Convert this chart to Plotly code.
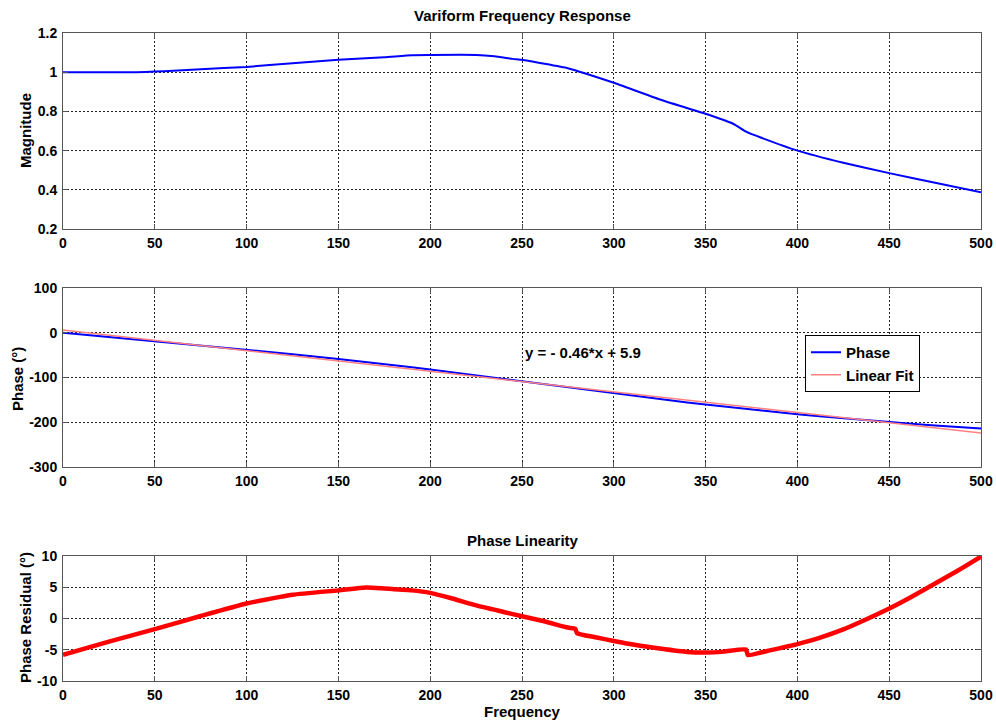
import plotly.graph_objects as go

# ---- data ----
mag_freq = [0, 25, 40, 50, 60, 75, 100, 125, 150, 175, 190, 200, 225, 235, 245,
            250, 275, 285, 300, 325, 350, 365, 372, 380, 400, 425, 450, 475, 500]
mag_vals = [1.0, 1.0, 1.0, 1.003, 1.007, 1.015, 1.027, 1.046, 1.063, 1.076, 1.087,
            1.088, 1.088, 1.081, 1.068, 1.063, 1.02, 0.992, 0.946, 0.861, 0.788,
            0.737, 0.697, 0.667, 0.6, 0.538, 0.485, 0.436, 0.388]

ph_freq = [0, 25, 50, 75, 100, 125, 150, 165, 175, 190, 200, 212, 225, 240, 250,
           262, 275, 279, 280, 290, 300, 312, 325, 340, 350, 360, 372, 373, 380,
           385, 395, 400, 412, 425, 437, 450, 462, 475, 487, 500]
ph_vals = [0.1, -9.3, -18.8, -28.2, -37.7, -47.8, -58.6, -65.05, -69.8, -77.0,
           -82.0, -88.42, -95.5, -103.45, -108.75, -115.07, -122.05, -124.09,
           -125.25, -130.5, -135.7, -141.87, -148.4, -155.85, -160.55, -165.0,
           -170.17, -171.53, -174.35, -176.3, -180.25, -182.2, -186.72, -191.35,
           -195.32, -199.5, -203.17, -207.0, -210.52, -214.2]
res_vals = [-5.8, -3.7, -1.7, 0.4, 2.4, 3.8, 4.5, 4.95, 4.8, 4.5, 4.1, 3.2, 2.1,
            1.05, 0.35, -0.45, -1.45, -1.65, -2.35, -3.0, -3.6, -4.25, -4.8, -5.35,
            -5.45, -5.3, -4.95, -5.85, -5.45, -5.1, -4.45, -4.1, -3.1, -1.75, -0.2,
            1.6, 3.45, 5.6, 7.6, 9.9]

fit_freq = [0, 500]
fit_vals = [5.9, -224.1]

x_ticks = [0, 50, 100, 150, 200, 250, 300, 350, 400, 450, 500]
mag_ticks = [0.2, 0.4, 0.6, 0.8, 1.0, 1.2]
mag_ticktext = ["0.2", "0.4", "0.6", "0.8", "1", "1.2"]
ph_ticks = [-300, -200, -100, 0, 100]
ph_ticktext = ["-300", "-200", "-100", "0", "100"]
res_ticks = [-10, -5, 0, 5, 10]
res_ticktext = ["-10", "-5", "0", "5", "10"]

FONT = "Liberation Sans"
W, H = 996, 721

def px_x(p):
    return p / W

def px_y(p):
    return 1 - p / H

fig = go.Figure()

fig.add_trace(go.Scatter(x=mag_freq, y=mag_vals, mode="lines",
                         line=dict(color="#0000FF", width=2, shape="spline", smoothing=0.4),
                         showlegend=False, xaxis="x", yaxis="y"))
fig.add_trace(go.Scatter(x=ph_freq, y=ph_vals, mode="lines", name="Phase",
                         line=dict(color="#0000FF", width=2),
                         xaxis="x2", yaxis="y2"))
fig.add_trace(go.Scatter(x=fit_freq, y=fit_vals, mode="lines", name="Linear Fit",
                         line=dict(color="#FF8080", width=1.5),
                         xaxis="x2", yaxis="y2"))
fig.add_trace(go.Scatter(x=ph_freq, y=res_vals, mode="lines",
                         line=dict(color="#FF0000", width=4.5, shape="spline", smoothing=0.5),
                         showlegend=False, xaxis="x3", yaxis="y3"))

xdom = [px_x(63), px_x(981)]
tickfont = dict(family=FONT, size=14, color="black", weight="bold")
common_axis = dict(showline=True, linecolor="#555555", linewidth=1, mirror="ticks",
                   ticks="inside", ticklen=5, tickcolor="#555555",
                   showgrid=True, gridcolor="#222222", gridwidth=1,
                   griddash="2px,2px", zeroline=False, tickfont=tickfont,
                   automargin=False)

def xaxis(anchor):
    d = dict(common_axis)
    d.update(domain=xdom, range=[0, 500], tickvals=x_ticks, anchor=anchor,
             ticklabelstandoff=1)
    return d

def yaxis(anchor, dom, rng, tv, tt):
    d = dict(common_axis)
    d.update(domain=dom, range=rng, tickvals=tv, ticktext=tt, anchor=anchor,
             ticklabelstandoff=2)
    return d

fig.update_layout(
    width=W, height=H,
    autosize=False,
    margin=dict(l=0, r=0, t=0, b=0, pad=0, autoexpand=False),
    paper_bgcolor="white", plot_bgcolor="white",
    xaxis=xaxis("y"),
    yaxis=yaxis("x", [px_y(229), px_y(33)], [0.2, 1.2], mag_ticks, mag_ticktext),
    xaxis2=xaxis("y2"),
    yaxis2=yaxis("x2", [px_y(467), px_y(288)], [-300, 100], ph_ticks, ph_ticktext),
    xaxis3=xaxis("y3"),
    yaxis3=yaxis("x3", [px_y(681), px_y(556)], [-10, 10], res_ticks, res_ticktext),
    legend=dict(x=px_x(805), y=px_y(335), xanchor="left", yanchor="top",
                bgcolor="white", bordercolor="black", borderwidth=1,
                font=dict(family=FONT, size=15, color="black", weight="bold"),
                tracegroupgap=0, itemwidth=30),
    showlegend=True,
)

afont = dict(family=FONT, size=15, color="black", weight="bold")

def label(text, x, y, angle=0):
    return dict(text=text, x=px_x(x), y=px_y(y), xref="paper", yref="paper",
                xanchor="center", yanchor="middle", textangle=angle,
                showarrow=False, font=afont)

annotations = [
    label("Variform Frequency Response", 522, 16),
    label("Phase Linearity", 523, 540),
    label("Frequency", 522, 711),
    label("Magnitude", 25, 131, -90),
    label("Phase (°)", 17, 379, -90),
    label("Phase Residual (°)", 25, 618, -90),
    dict(text="y = - 0.46*x + 5.9", x=250.5, y=-45, xref="x2", yref="y2",
         xanchor="left", yanchor="middle", showarrow=False, font=afont),
]
fig.update_layout(annotations=annotations)

fig.write_html("out.html", config={"responsive": False, "displayModeBar": False})
